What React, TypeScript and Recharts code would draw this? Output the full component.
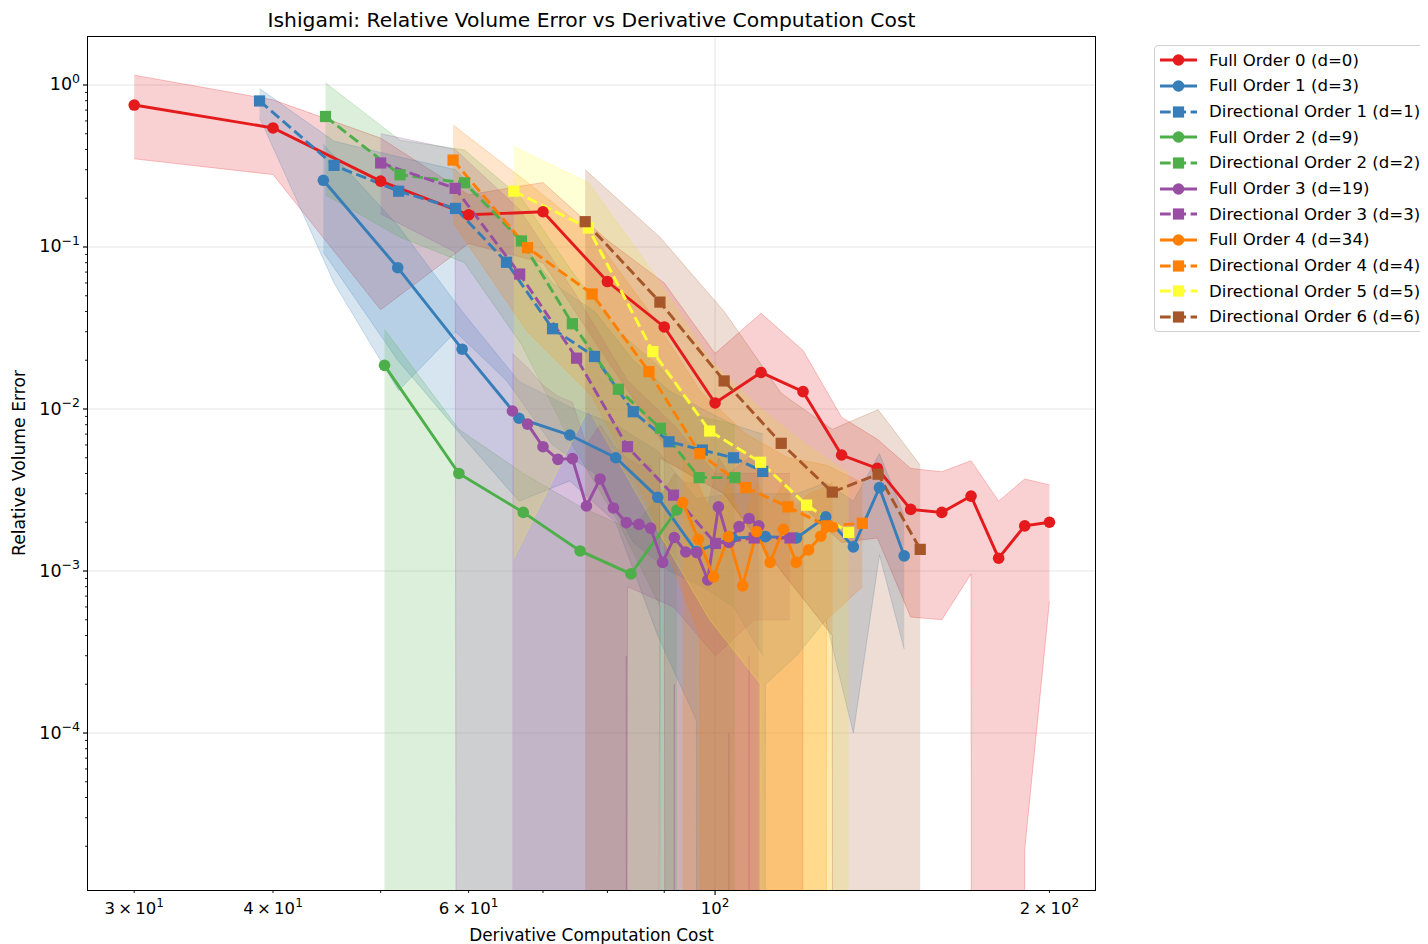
import React from 'react';
import { ComposedChart, Area, Line, XAxis, YAxis, CartesianGrid } from 'recharts';

// Full Order 0 (d=0)
const full0Cost = [30, 40, 50, 60, 70, 80, 90, 100, 110, 120, 130, 140, 150, 160, 170, 180, 190, 200];
const full0Err = [0.752, 0.543, 0.255, 0.158, 0.165, 0.0612, 0.0321, 0.0109, 0.0168, 0.0128, 0.0052, 0.0043, 0.0024, 0.0023, 0.0029, 0.0012, 0.0019, 0.002];
const full0Lo = [0.35, 0.28, 0.041, 0.105, 0.08, 0.02, 0.006, 0, 0, 0.0025, 0.0015, 0.0016, 0.00052, 0.0005, 0.00096, 0, 0.000019, 0.00065];
const full0Hi = [1.15, 0.81, 0.47, 0.21, 0.25, 0.11, 0.06, 0.022, 0.039, 0.023, 0.0089, 0.0065, 0.0043, 0.0041, 0.0048, 0.0027, 0.0037, 0.0034];

// Full Order 1 (d=3)
const full1Cost = [44.4, 51.8, 59.2, 66.6, 74.0, 81.4, 88.8, 96.2, 103.6, 111.0, 118.4, 125.8, 133.2, 140.6, 148.0];
const full1Err = [0.258, 0.0745, 0.0234, 0.00877, 0.00691, 0.005, 0.00285, 0.00132, 0.0016, 0.00163, 0.0016, 0.00216, 0.00141, 0.00327, 0.00124];
const full1Lo = [0.093, 0.02, 0.0068, 0.0027, 0.0036, 0.002, 0.0004, 0.00012, 0, 0.0002, 0.0003, 0.0005, 0.0001, 0.00126, 0.00033];
const full1Hi = [0.43, 0.136, 0.04, 0.0148, 0.0103, 0.008, 0.0055, 0.0028, 0.003, 0.003, 0.003, 0.0035, 0.0027, 0.0053, 0.0022];

// Directional Order 1 (d=1)
const dir1Cost = [38.9, 45.4, 51.9, 58.4, 64.9, 71.4, 77.9, 84.4, 90.9, 97.4, 103.9, 110.4];
const dir1Err = [0.797, 0.319, 0.221, 0.173, 0.0805, 0.0313, 0.0211, 0.00962, 0.00628, 0.00558, 0.005, 0.00412];
const dir1Lo = [0.63, 0.06, 0.013, 0.03, 0.015, 0.006, 0.004, 0.0015, 0.001, 0.0008, 0.0006, 0.0003];
const dir1Hi = [0.95, 0.45, 0.36, 0.3, 0.14, 0.06, 0.04, 0.02, 0.013, 0.01, 0.008, 0.007];

// Full Order 2 (d=9)
const full2Cost = [50.4, 58.8, 67.2, 75.6, 84.0, 92.4];
const full2Err = [0.0186, 0.004, 0.0023, 0.00133, 0.00096, 0.00238];
const full2Lo = [0, 0, 0, 0, 0, 0];
const full2Hi = [0.031, 0.0075, 0.004, 0.0025, 0.0018, 0.004];

// Directional Order 2 (d=2)
const dir2Cost = [44.6, 52.05, 59.5, 66.95, 74.4, 81.85, 89.3, 96.75, 104.2];
const dir2Err = [0.639, 0.279, 0.249, 0.109, 0.0336, 0.01324, 0.0076, 0.00377, 0.00377];
const dir2Lo = [0.21, 0.115, 0.08, 0.025, 0.006, 0.002, 0.0006, 0, 0];
const dir2Hi = [1.03, 0.456, 0.397, 0.2, 0.07, 0.03, 0.018, 0.009, 0.008];

// Full Order 3 (d=19)
const full3Cost = [65.7, 67.8, 70.0, 72.2, 74.4, 76.6, 78.8, 81.0, 83.2, 85.4, 87.5, 89.7, 91.9, 94.1, 96.3, 98.5, 100.7, 102.9, 105.1, 107.3, 109.5];
const full3Err = [0.00972, 0.00807, 0.00585, 0.00489, 0.00494, 0.00252, 0.0037, 0.00245, 0.00199, 0.00194, 0.00184, 0.00113, 0.00161, 0.00131, 0.0013, 0.00088, 0.00249, 0.0015, 0.00188, 0.00211, 0.0019];
const full3Lo = [0, 0, 0, 0, 0, 0, 0, 0, 0.0003, 0, 0, 0, 0.0002, 0, 0, 0, 0, 0.0001, 0, 0.0003, 0];
const full3Hi = [0.022, 0.018, 0.014, 0.012, 0.011, 0.006, 0.008, 0.006, 0.005, 0.0045, 0.0045, 0.003, 0.004, 0.0035, 0.0035, 0.0025, 0.005, 0.004, 0.0045, 0.005, 0.0045];

// Directional Order 3 (d=3)
const dir3Cost = [50.0, 58.35, 66.7, 75.05, 83.4, 91.75, 100.1, 108.45, 116.8];
const dir3Err = [0.33, 0.23, 0.0681, 0.0206, 0.00585, 0.00294, 0.00148, 0.0016, 0.0016];
const dir3Lo = [0.16, 0.093, 0, 0, 0.0008, 0.0006, 0.0003, 0.0005, 0.0005];
const dir3Hi = [0.5, 0.4, 0.17, 0.05, 0.015, 0.008, 0.004, 0.004, 0.004];

// Full Order 4 (d=34)
const full4Cost = [93.5, 96.6, 99.7, 102.8, 105.9, 109.0, 112.1, 115.2, 118.3, 121.4, 124.5, 127.6];
const full4Err = [0.00265, 0.00157, 0.00092, 0.00163, 0.00081, 0.00175, 0.00113, 0.00181, 0.00113, 0.00135, 0.00164, 0.00187];
const full4Lo = [0, 0, 0, 0, 0, 0, 0, 0, 0, 0, 0, 0];
const full4Hi = [0.005, 0.0035, 0.0022, 0.0035, 0.002, 0.0035, 0.0025, 0.0035, 0.0025, 0.003, 0.0032, 0.0035];

// Directional Order 4 (d=4)
const dir4Cost = [58.1, 67.8, 77.5, 87.2, 96.9, 106.6, 116.3, 126.0, 135.7];
const dir4Err = [0.344, 0.099, 0.0513, 0.017, 0.0053, 0.00327, 0.00249, 0.0019, 0.00197];
const dir4Lo = [0.141, 0.03, 0.012, 0.0025, 0.0004, 0, 0, 0.0005, 0.0008];
const dir4Hi = [0.566, 0.25, 0.12, 0.04, 0.013, 0.007, 0.005, 0.0045, 0.0035];

// Directional Order 5 (d=5)
const dir5Cost = [65.9, 76.9, 87.9, 98.9, 109.9, 120.9, 131.9];
const dir5Err = [0.221, 0.131, 0.0226, 0.00731, 0.00469, 0.00255, 0.00173];
const dir5Lo = [0.0012, 0.01, 0.002, 0.0005, 0.0002, 0, 0];
const dir5Hi = [0.416, 0.25, 0.07, 0.02, 0.01, 0.006, 0.004];

// Directional Order 6 (d=6)
const dir6Cost = [76.4, 89.2, 101.9, 114.7, 127.5, 140.2, 153.0];
const dir6Err = [0.1433, 0.0457, 0.0149, 0.00614, 0.00307, 0.00396, 0.00136];
const dir6Lo = [0, 0.005, 0.003, 0.001, 0.0004, 0, 0];
const dir6Hi = [0.3, 0.115, 0.04, 0.0125, 0.0075, 0.0099, 0.0045];

// axis ticks
const xTicks = [30, 40, 50, 60, 70, 80, 90, 100, 200];
const xTickText: Record<number, [string, string]> = {
  30: ['3\u2009×\u200910', '1'],
  40: ['4\u2009×\u200910', '1'],
  60: ['6\u2009×\u200910', '1'],
  100: ['10', '2'],
  200: ['2\u2009×\u200910', '2'],
};
const yMajor = [1, 0.1, 0.01, 0.001, 0.0001];
const yMajorText = ['0', '−1', '−2', '−3', '−4'];

const X_DOMAIN: [number, number] = [27.26, 219.8];
const Y_DOMAIN: [number, number] = [1.074e-5, 1.978];
const FLOOR = 1e-300; // bands without a positive lower bound drop straight off the log axis
const FONT = '"DejaVu Sans", Verdana, sans-serif';

type SeriesDef = {
  name: string;
  color: string;
  dashed: boolean;
  square: boolean;
  cost: number[];
  err: number[];
  lo: number[];
  hi: number[];
};

const series: SeriesDef[] = [
  { name: 'Full Order 0 (d=0)', color: '#e41a1c', dashed: false, square: false, cost: full0Cost, err: full0Err, lo: full0Lo, hi: full0Hi },
  { name: 'Full Order 1 (d=3)', color: '#377eb8', dashed: false, square: false, cost: full1Cost, err: full1Err, lo: full1Lo, hi: full1Hi },
  { name: 'Directional Order 1 (d=1)', color: '#377eb8', dashed: true, square: true, cost: dir1Cost, err: dir1Err, lo: dir1Lo, hi: dir1Hi },
  { name: 'Full Order 2 (d=9)', color: '#4daf4a', dashed: false, square: false, cost: full2Cost, err: full2Err, lo: full2Lo, hi: full2Hi },
  { name: 'Directional Order 2 (d=2)', color: '#4daf4a', dashed: true, square: true, cost: dir2Cost, err: dir2Err, lo: dir2Lo, hi: dir2Hi },
  { name: 'Full Order 3 (d=19)', color: '#984ea3', dashed: false, square: false, cost: full3Cost, err: full3Err, lo: full3Lo, hi: full3Hi },
  { name: 'Directional Order 3 (d=3)', color: '#984ea3', dashed: true, square: true, cost: dir3Cost, err: dir3Err, lo: dir3Lo, hi: dir3Hi },
  { name: 'Full Order 4 (d=34)', color: '#ff7f00', dashed: false, square: false, cost: full4Cost, err: full4Err, lo: full4Lo, hi: full4Hi },
  { name: 'Directional Order 4 (d=4)', color: '#ff7f00', dashed: true, square: true, cost: dir4Cost, err: dir4Err, lo: dir4Lo, hi: dir4Hi },
  { name: 'Directional Order 5 (d=5)', color: '#ffff33', dashed: true, square: true, cost: dir5Cost, err: dir5Err, lo: dir5Lo, hi: dir5Hi },
  { name: 'Directional Order 6 (d=6)', color: '#a65628', dashed: true, square: true, cost: dir6Cost, err: dir6Err, lo: dir6Lo, hi: dir6Hi },
];

const toRows = (s: SeriesDef) =>
  s.cost.map((c, i) => ({ cost: c, err: s.err[i], band: [Math.max(s.lo[i], FLOOR), s.hi[i]] }));

const yTicks: number[] = [];
yMajor.forEach((d) => {
  for (let m = 1; m <= 9; m++) {
    const v = m * d;
    if (v > Y_DOMAIN[0] && v < Y_DOMAIN[1]) yTicks.push(v);
  }
  for (let m = 2; m <= 9; m++) {
    const v = (m * d) / 10;
    if (d === 0.0001 && v > Y_DOMAIN[0]) yTicks.push(v);
  }
});

const DASH = '10.7 4.6';
const LW = 2.9;

function marker(s: SeriesDef) {
  return (p: any) => {
    const { cx, cy, index } = p;
    if (cx == null || cy == null) return <g key={`${s.name}-${index}`} />;
    return s.square ? (
      <rect key={`${s.name}-${index}`} x={cx - 5.6} y={cy - 5.6} width={11.2} height={11.2} fill={s.color} />
    ) : (
      <circle key={`${s.name}-${index}`} cx={cx} cy={cy} r={5.8} fill={s.color} />
    );
  };
}

function XTick(props: any) {
  const { x, y, payload } = props;
  const v = payload.value as number;
  const major = v === 100;
  const lab = xTickText[v];
  return (
    <g>
      <line x1={x} x2={x} y1={y} y2={y + (major ? 5 : 3)} stroke="#000" strokeWidth={major ? 1.15 : 0.9} />
      {lab && (
        <text x={x} y={y + 24} textAnchor="middle" fontFamily={FONT} fontSize={16.5} fill="#000">
          {lab[0]}
          <tspan dy={-7.5} fontSize={12}>{lab[1]}</tspan>
        </text>
      )}
    </g>
  );
}

function YTick(props: any) {
  const { x, y, payload } = props;
  const v = payload.value as number;
  const mi = yMajor.findIndex((m) => Math.abs(m - v) / m < 1e-6);
  const major = mi >= 0;
  return (
    <g>
      <line x1={x} x2={x - (major ? 5 : 3)} y1={y} y2={y} stroke="#000" strokeWidth={major ? 1.15 : 0.9} />
      {major && (
        <text x={x - 8} y={y + 5.5} textAnchor="end" fontFamily={FONT} fontSize={17.5} fill="#000">
          10
          <tspan dy={-7.5} fontSize={12.5}>{yMajorText[mi]}</tspan>
        </text>
      )}
    </g>
  );
}

function LegendBox() {
  return (
    <div
      style={{
        position: 'absolute',
        left: 1146,
        top: 37,
        width: 300,
        height: 287,
        border: '1px solid #d0d0d0',
        borderRadius: 4,
        background: '#fff',
        boxSizing: 'border-box',
        paddingTop: 1.5,
      }}
    >
      {series.map((s) => (
        <div key={s.name} style={{ height: 25.67, display: 'flex', alignItems: 'center', position: 'relative' }}>
          <svg width={40} height={14} style={{ position: 'absolute', left: 5 }}>
            <line x1={0} x2={37} y1={7} y2={7} stroke={s.color} strokeWidth={LW} strokeDasharray={s.dashed ? DASH : undefined} />
            {s.square ? (
              <rect x={18.5 - 5.6} y={7 - 5.6} width={11.2} height={11.2} fill={s.color} />
            ) : (
              <circle cx={18.5} cy={7} r={5.8} fill={s.color} />
            )}
          </svg>
          <span style={{ position: 'absolute', left: 54, fontFamily: FONT, fontSize: 16.6, color: '#000', whiteSpace: 'nowrap' }}>
            {s.name}
          </span>
        </div>
      ))}
    </div>
  );
}

export default function App() {
  return (
    <div style={{ position: 'relative', width: 1420, height: 936, overflow: 'hidden', background: '#fff' }}>
      <div
        style={{
          position: 'absolute',
          left: 80,
          width: 1007,
          top: 0,
          lineHeight: '24px',
          textAlign: 'center',
          fontFamily: FONT,
          fontSize: 20.3,
          color: '#000',
        }}
      >
        Ishigami: Relative Volume Error vs Derivative Computation Cost
      </div>
      <ComposedChart width={1420} height={936} margin={{ top: 29, right: 333, bottom: 24, left: 20 }}>
        <CartesianGrid horizontalValues={yMajor} verticalValues={[100]} stroke="#b0b0b0" strokeOpacity={0.3} strokeWidth={1.1} />
        <XAxis
          type="number"
          dataKey="cost"
          scale="log"
          domain={X_DOMAIN}
          allowDataOverflow
          ticks={xTicks}
          interval={0}
          tick={<XTick />}
          tickLine={false}
          tickSize={0}
          tickMargin={0}
          axisLine={false}
          height={30}
        />
        <YAxis
          type="number"
          scale="log"
          domain={Y_DOMAIN}
          allowDataOverflow
          ticks={yTicks}
          interval={0}
          tick={<YTick />}
          tickLine={false}
          tickSize={0}
          tickMargin={0}
          axisLine={false}
          width={60}
        />
        {series.map((s) => [
          <Area
            key={`${s.name}-band`}
            data={toRows(s)}
            dataKey="band"
            type="linear"
            fill={s.color}
            fillOpacity={0.2}
            stroke={s.color}
            strokeOpacity={0.25}
            strokeWidth={1}
            dot={false}
            activeDot={false}
            isAnimationActive={false}
          />,
          <Line
            key={`${s.name}-line`}
            data={toRows(s)}
            dataKey="err"
            type="linear"
            stroke={s.color}
            strokeWidth={LW}
            strokeDasharray={s.dashed ? DASH : undefined}
            dot={marker(s)}
            activeDot={false}
            isAnimationActive={false}
          />,
        ])}
      </ComposedChart>
      <div
        style={{
          position: 'absolute',
          left: 79.4,
          top: 28.4,
          width: 1008.2,
          height: 854.2,
          border: '1.2px solid #000',
          boxSizing: 'border-box',
          pointerEvents: 'none',
        }}
      />
      <div
        style={{
          position: 'absolute',
          left: 583.5,
          top: 927,
          transform: 'translate(-50%, -50%)',
          fontFamily: FONT,
          fontSize: 16.9,
          whiteSpace: 'nowrap',
          color: '#000',
        }}
      >
        Derivative Computation Cost
      </div>
      <div
        style={{
          position: 'absolute',
          left: 11,
          top: 455,
          transform: 'translate(-50%, -50%) rotate(-90deg)',
          fontFamily: FONT,
          fontSize: 17.2,
          whiteSpace: 'nowrap',
          color: '#000',
        }}
      >
        Relative Volume Error
      </div>
      <LegendBox />
    </div>
  );
}
